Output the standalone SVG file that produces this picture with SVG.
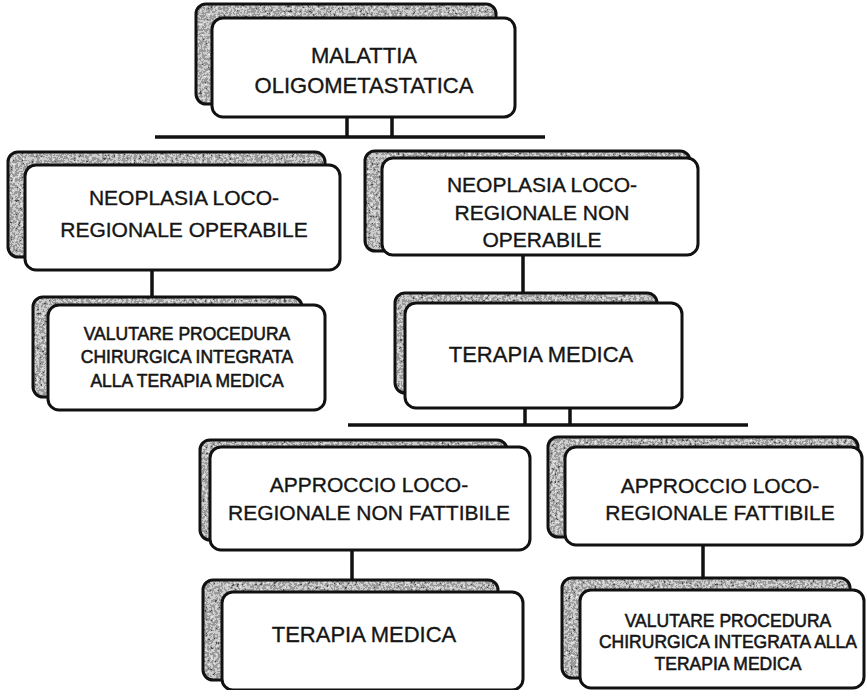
<svg xmlns="http://www.w3.org/2000/svg" width="866" height="690" viewBox="0 0 866 690">
  <defs>
    <!-- speckled halftone texture for the back cards -->
    <filter id="grain" x="0" y="0" width="100%" height="100%" color-interpolation-filters="sRGB">
      <feTurbulence type="fractalNoise" baseFrequency="0.38" numOctaves="2" seed="7" result="noise"/>
      <feColorMatrix in="noise" type="saturate" values="0" result="gray"/>
      <feComponentTransfer in="gray" result="steps">
        <feFuncR type="discrete" tableValues="0 0.3 0.6 0.8 0.92 1"/>
        <feFuncG type="discrete" tableValues="0 0.3 0.6 0.8 0.92 1"/>
        <feFuncB type="discrete" tableValues="0 0.3 0.6 0.8 0.92 1"/>
        <feFuncA type="table" tableValues="1 1"/>
      </feComponentTransfer>
      <feComposite in="steps" in2="SourceGraphic" operator="in"/>
    </filter>
  </defs>
  <style>
    .back { fill: #888; filter: url(#grain); }
    .backline { fill: none; stroke: #111; stroke-width: 3; }
    .front { fill: #fff; stroke: #111; stroke-width: 3; }
    .lbl { font-family: "Liberation Sans", Arial, sans-serif; fill: #151515; stroke: #151515; stroke-width: 0.35; text-anchor: middle; }
    .big { font-size: 22px; }
    .mid { font-size: 21px; }
    .small { font-size: 17.5px; stroke-width: 0.55; }
    .link { stroke: #111; stroke-width: 3.5; fill: none; stroke-linecap: butt; }
  </style>

  <rect width="866" height="690" fill="#fff"/>

  <!-- connectors -->
  <g id="connectors">
    <line class="link" x1="347" y1="116" x2="347" y2="137"/>
    <line class="link" x1="392" y1="116" x2="392" y2="137"/>
    <line class="link" x1="155" y1="137" x2="545" y2="137"/>
    <line class="link" x1="152" y1="270" x2="152" y2="298"/>
    <line class="link" x1="523" y1="255" x2="523" y2="294"/>
    <line class="link" x1="525" y1="408" x2="525" y2="425"/>
    <line class="link" x1="570" y1="408" x2="570" y2="425"/>
    <line class="link" x1="348" y1="425" x2="748" y2="425"/>
    <line class="link" x1="352" y1="550" x2="352" y2="580"/>
    <line class="link" x1="703" y1="545" x2="703" y2="578"/>
  </g>

  <g id="n-malattia">
    <rect class="back" x="196" y="4" width="300" height="100" rx="10"/>
    <rect class="backline" x="196" y="4" width="300" height="100" rx="10"/>
    <rect class="front" x="212" y="18" width="303" height="99" rx="11"/>
    <text class="lbl big" x="364" y="63">MALATTIA</text>
    <text class="lbl big" x="364" y="93">OLIGOMETASTATICA</text>
  </g>

  <g id="n-operabile">
    <rect class="back" x="8" y="152" width="317" height="105" rx="10"/>
    <rect class="backline" x="8" y="152" width="317" height="105" rx="10"/>
    <rect class="front" x="25" y="165" width="315" height="105" rx="11"/>
    <text class="lbl mid" x="184" y="205">NEOPLASIA LOCO-</text>
    <text class="lbl mid" x="184" y="237">REGIONALE OPERABILE</text>
  </g>

  <g id="n-non-operabile">
    <rect class="back" x="365" y="151" width="325" height="100" rx="10"/>
    <rect class="backline" x="365" y="151" width="325" height="100" rx="10"/>
    <rect class="front" x="382" y="158" width="316" height="97" rx="11"/>
    <text class="lbl mid" x="542" y="192">NEOPLASIA LOCO-</text>
    <text class="lbl mid" x="542" y="220">REGIONALE NON</text>
    <text class="lbl mid" x="542" y="247">OPERABILE</text>
  </g>

  <g id="n-valutare-1">
    <rect class="back" x="33" y="297" width="269" height="100" rx="10"/>
    <rect class="backline" x="33" y="297" width="269" height="100" rx="10"/>
    <rect class="front" x="48" y="305" width="277" height="105" rx="11"/>
    <text class="lbl small" x="187" y="340">VALUTARE PROCEDURA</text>
    <text class="lbl small" x="187" y="363">CHIRURGICA INTEGRATA</text>
    <text class="lbl small" x="187" y="387">ALLA TERAPIA MEDICA</text>
  </g>

  <g id="n-terapia-1">
    <rect class="back" x="395" y="293" width="262" height="100" rx="10"/>
    <rect class="backline" x="395" y="293" width="262" height="100" rx="10"/>
    <rect class="front" x="405" y="303" width="277" height="105" rx="11"/>
    <text class="lbl big" x="541" y="362">TERAPIA MEDICA</text>
  </g>

  <g id="n-non-fattibile">
    <rect class="back" x="200" y="440" width="307" height="100" rx="10"/>
    <rect class="backline" x="200" y="440" width="307" height="100" rx="10"/>
    <rect class="front" x="210" y="447" width="320" height="103" rx="11"/>
    <text class="lbl mid" x="369" y="492">APPROCCIO  LOCO-</text>
    <text class="lbl mid" x="369" y="520">REGIONALE NON FATTIBILE</text>
  </g>

  <g id="n-fattibile">
    <rect class="back" x="548" y="437" width="310" height="100" rx="10"/>
    <rect class="backline" x="548" y="437" width="310" height="100" rx="10"/>
    <rect class="front" x="565" y="447" width="297" height="98" rx="11"/>
    <text class="lbl mid" x="720" y="493">APPROCCIO LOCO-</text>
    <text class="lbl mid" x="720" y="520">REGIONALE FATTIBILE</text>
  </g>

  <g id="n-terapia-2">
    <rect class="back" x="203" y="580" width="295" height="100" rx="10"/>
    <rect class="backline" x="203" y="580" width="295" height="100" rx="10"/>
    <rect class="front" x="222" y="592" width="301" height="98" rx="11"/>
    <text class="lbl big" x="364" y="642">TERAPIA MEDICA</text>
  </g>

  <g id="n-valutare-2">
    <rect class="back" x="562" y="578" width="288" height="100" rx="10"/>
    <rect class="backline" x="562" y="578" width="288" height="100" rx="10"/>
    <rect class="front" x="580" y="590" width="284" height="98" rx="11"/>
    <text class="lbl small" x="728" y="627">VALUTARE  PROCEDURA</text>
    <text class="lbl small" x="728" y="648">CHIRURGICA INTEGRATA ALLA</text>
    <text class="lbl small" x="728" y="670">TERAPIA  MEDICA</text>
  </g>
</svg>
